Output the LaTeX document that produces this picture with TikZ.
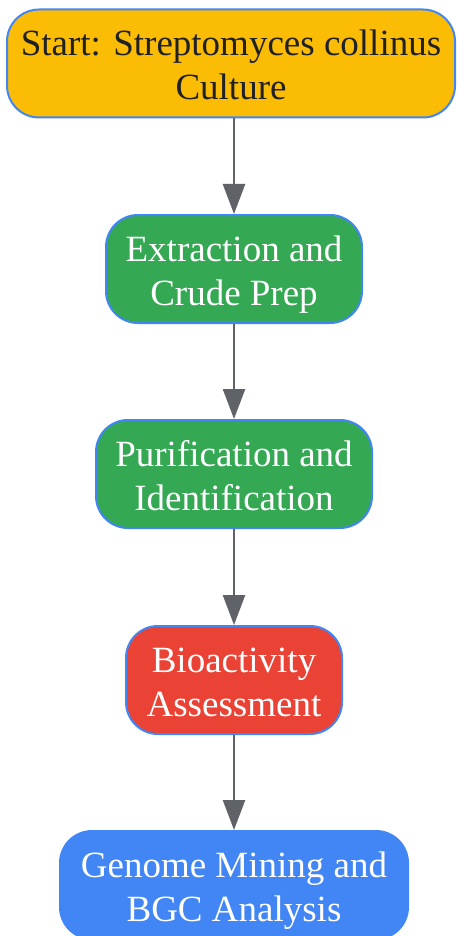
\documentclass[tikz,border=0pt]{standalone}
\usepackage{fontspec}
\setmainfont{Liberation Serif}
\usetikzlibrary{arrows.meta}
\definecolor{gyellow}{HTML}{FBBC05}
\definecolor{ggreen}{HTML}{34A853}
\definecolor{gred}{HTML}{EA4335}
\definecolor{gblue}{HTML}{4285F4}
\definecolor{ggray}{HTML}{5F6368}
\definecolor{gtext}{HTML}{202124}
\newcommand{\topstrut}{\rule{0pt}{37.5pt}}
\newcommand{\botstrut}{\rule[-8.5pt]{0pt}{8.5pt}}
\tikzstyle{stepnode}=[rounded corners=32pt,draw=gblue,line width=2pt,minimum height=108pt,inner sep=0pt,align=center,text=white,font=\fontsize{37}{44}\selectfont]
\tikzstyle{flowarrow}=[draw=ggray,line width=2.5pt,-{Triangle[length=30pt,width=22pt]}]

\begin{document}
\begin{tikzpicture}[x=1pt,y=-1pt]
    \useasboundingbox (0,0) rectangle (457,936);
    \node[stepnode,fill=gyellow,text=gtext,minimum width=448pt] (n1) at (231,63.5)  {\topstrut Start: Streptomyces collinus\\Culture\botstrut};
    \node[stepnode,fill=ggreen,minimum width=256pt] (n2) at (234,269) {\topstrut Extraction and\\Crude Prep\botstrut};
    \node[stepnode,fill=ggreen,minimum width=276pt] (n3) at (234,474) {\topstrut Purification and\\Identification\botstrut};
    \node[stepnode,fill=gred,minimum width=216pt] (n4) at (234,680) {\topstrut Bioactivity\\Assessment\botstrut};
    \node[stepnode,fill=gblue,minimum width=348pt] (n5) at (234,885) {\topstrut Genome Mining and\\BGC Analysis\botstrut};

    \foreach \from/\to in {n1/n2,n2/n3,n3/n4,n4/n5}
    \draw[flowarrow] (\from.south -| \to.north) -- (\to.north);
\end{tikzpicture}
\end{document}
